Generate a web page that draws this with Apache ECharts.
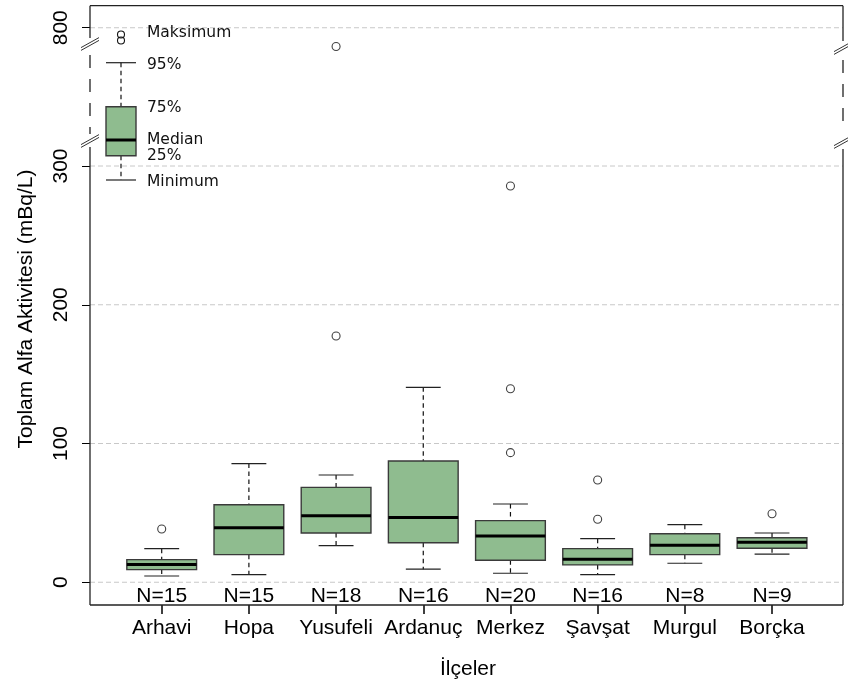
<!DOCTYPE html>
<html>
<head>
<meta charset="utf-8">
<script src="https://cdn.jsdelivr.net/npm/echarts@6/dist/echarts.min.js"></script>
<style>
  html, body { margin: 0; padding: 0; background: #ffffff; }
  #chart { width: 848px; height: 685px; }
</style>
</head>
<body>
<div id="chart"></div>
<script>
// Total alpha activity per district (mBq/L): five-number summaries + outliers
const categories  = ['Arhavi', 'Hopa', 'Yusufeli', 'Ardanuç', 'Merkez', 'Şavşat', 'Murgul', 'Borçka'];
const counts      = [15, 15, 18, 16, 20, 16, 8, 9];
const whiskerLow  = [4.5, 5.5, 26.4, 9.4, 6.5, 5.5, 13.7, 20.2];
const quartile1   = [9.1, 19.9, 35.5, 28.5, 15.9, 12.5, 19.9, 24.5];
const medians     = [12.7, 39.3, 48.0, 46.6, 33.4, 16.6, 26.7, 28.8];
const quartile3   = [16.3, 55.9, 68.4, 87.4, 44.4, 24.2, 35.0, 32.1];
const whiskerHigh = [24.2, 85.5, 77.3, 140.5, 56.4, 31.4, 41.5, 35.5];
const outliers    = [[38.4], [], [177.5, 786.5], [], [93.4, 139.5, 285.6], [45.4, 73.7], [], [49.4]];
const lowerTicks  = [0, 100, 200, 300];
const upperTicks  = [800];

// Broken y axis: lower panel and upper panel
const LOWER_MIN = -16.4, LOWER_MAX = 317.3;
const UPPER_MIN = 786.1, UPPER_MAX = 815.9;
const X_MIN = 0.1776, X_MAX = 8.814;

const FILL = '#8fbc8f';
const EDGE = '#3a3a3a';
const LABEL_FONT = 'Liberation Sans, Arial, sans-serif';
const KEY_FONT = 'DejaVu Sans, sans-serif';

const positions = categories.map((_, i) => i + 1);

const boxData = categories.map((_, i) => [positions[i], whiskerLow[i], quartile1[i], medians[i], quartile3[i], whiskerHigh[i]]);
const lowerOutliers = [];
const upperOutliers = [];
outliers.forEach((list, i) => list.forEach(v => {
  (v > LOWER_MAX ? upperOutliers : lowerOutliers).push([positions[i], v]);
}));

function renderBox(params, api) {
  const x = api.value(0);
  const pLo = api.coord([x, api.value(1)]);
  const pQ1 = api.coord([x, api.value(2)]);
  const pMd = api.coord([x, api.value(3)]);
  const pQ3 = api.coord([x, api.value(4)]);
  const pHi = api.coord([x, api.value(5)]);
  const halfBox = api.size([0.8, 0])[0] / 2;
  const halfCap = api.size([0.4, 0])[0] / 2;
  const cx = pMd[0];
  const dash = { stroke: '#111', lineWidth: 1.2, lineDash: [4.5, 3.5] };
  const solid = { stroke: '#222', lineWidth: 1.2 };
  return {
    type: 'group',
    children: [
      { type: 'line', shape: { x1: cx, y1: pHi[1], x2: cx, y2: pQ3[1] }, style: dash },
      { type: 'line', shape: { x1: cx, y1: pQ1[1], x2: cx, y2: pLo[1] }, style: dash },
      { type: 'line', shape: { x1: cx - halfCap, y1: pHi[1], x2: cx + halfCap, y2: pHi[1] }, style: solid },
      { type: 'line', shape: { x1: cx - halfCap, y1: pLo[1], x2: cx + halfCap, y2: pLo[1] }, style: solid },
      { type: 'rect', shape: { x: cx - halfBox, y: pQ3[1], width: 2 * halfBox, height: pQ1[1] - pQ3[1] },
        style: { fill: FILL, stroke: EDGE, lineWidth: 1.4 } },
      { type: 'line', shape: { x1: cx - halfBox, y1: pMd[1], x2: cx + halfBox, y2: pMd[1] },
        style: { stroke: '#000', lineWidth: 3 } }
    ]
  };
}

function renderGridLine(params, api) {
  const cs = params.coordSys;
  const y = api.coord([X_MIN, api.value(1)])[1];
  return {
    type: 'line',
    shape: { x1: cs.x, y1: y, x2: cs.x + cs.width, y2: y },
    style: { stroke: '#c8c8c8', lineWidth: 1, lineDash: [5, 3] }
  };
}

function renderCount(params, api) {
  const cs = params.coordSys;
  const x = api.coord([api.value(0), LOWER_MIN])[0];
  return {
    type: 'text',
    x: x,
    y: cs.y + cs.height - 9,
    style: { text: 'N=' + api.value(1), font: '21px ' + LABEL_FONT, fill: '#000', align: 'center', verticalAlign: 'middle' }
  };
}

function yAxisFor(gridIndex, min, max, ticks) {
  return {
    type: 'value', gridIndex, min, max,
    axisLine: { show: false, onZero: false },
    splitLine: { show: false },
    axisTick: { show: true, length: 8, customValues: ticks, lineStyle: { color: '#000', width: 1 } },
    axisLabel: {
      customValues: ticks, rotate: 90, margin: 18,
      fontSize: 21, fontFamily: LABEL_FONT, color: '#000'
    }
  };
}

// Frame, axis breaks, explanatory key and titles
const frameStyle = { stroke: '#222', lineWidth: 1.3 };
const dashedFrame = { stroke: '#222', lineWidth: 1.3, lineDash: [13, 11] };
function slash(cx, cy) {
  return [-1.4, 1.4].map(d => ({
    type: 'line',
    shape: { x1: cx - 9, y1: cy + 5 + d, x2: cx + 9, y2: cy - 5 + d },
    style: { stroke: '#333', lineWidth: 1 }, z: 100
  }));
}
function line(x1, y1, x2, y2, style) {
  return { type: 'line', shape: { x1, y1, x2, y2 }, style, z: 90 };
}
function keyText(text, y) {
  return { type: 'text', x: 147, y, z: 100,
    style: { text, font: '15.5px ' + KEY_FONT, fill: '#111', align: 'left', verticalAlign: 'middle' } };
}
const keyDash = { stroke: '#111', lineWidth: 1.2, lineDash: [4.5, 3.5] };
const keySolid = { stroke: '#222', lineWidth: 1.2 };

const graphics = [
  line(90, 5.7, 843, 5.7, frameStyle),
  line(90, 605, 843, 605, frameStyle),
  line(90, 5.7, 90, 38, frameStyle),
  line(90, 55, 90, 134, dashedFrame),
  line(90, 147, 90, 605, frameStyle),
  line(843, 5.7, 843, 41, frameStyle),
  line(843, 60, 843, 130, dashedFrame),
  line(843, 149, 843, 605, frameStyle),
  ...slash(90, 44), ...slash(90, 141),
  ...slash(843, 48), ...slash(843, 142),
  // key
  { type: 'circle', shape: { cx: 121, cy: 34.5, r: 3.5 }, style: { fill: 'none', stroke: '#111', lineWidth: 1.1 }, z: 100 },
  { type: 'circle', shape: { cx: 121, cy: 40.5, r: 3.5 }, style: { fill: 'none', stroke: '#111', lineWidth: 1.1 }, z: 100 },
  line(106, 62.7, 136, 62.7, keySolid),
  line(121, 62.7, 121, 106.7, keyDash),
  line(121, 155.7, 121, 180, keyDash),
  line(106, 180, 136, 180, keySolid),
  { type: 'rect', shape: { x: 106, y: 106.7, width: 30, height: 49 }, style: { fill: FILL, stroke: EDGE, lineWidth: 1.4 }, z: 95 },
  { type: 'line', shape: { x1: 106, y1: 140, x2: 136, y2: 140 }, style: { stroke: '#000', lineWidth: 3 }, z: 96 },
  keyText('Maksimum', 33),
  keyText('95%', 64.5),
  keyText('75%', 107.5),
  keyText('Median', 140),
  keyText('25%', 156),
  keyText('Minimum', 181.5),
  // titles
  { type: 'text', x: 26, y: 309, rotation: Math.PI / 2,
    style: { text: 'Toplam Alfa Aktivitesi (mBq/L)', font: '21px ' + LABEL_FONT, fill: '#000', align: 'center', verticalAlign: 'middle' } },
  { type: 'text', x: 468, y: 669,
    style: { text: 'İlçeler', font: '21px ' + LABEL_FONT, fill: '#000', align: 'center', verticalAlign: 'middle' } }
];

const chart = echarts.init(document.getElementById('chart'), null, { renderer: 'canvas' });
chart.setOption({
  animation: false,
  backgroundColor: '#ffffff',
  grid: [
    { left: 90, right: 5, top: 5.7, height: 41.3 },
    { left: 90, right: 5, top: 142, bottom: 80 }
  ],
  xAxis: [
    { type: 'value', gridIndex: 0, min: X_MIN, max: X_MAX, show: false },
    {
      type: 'value', gridIndex: 1, min: X_MIN, max: X_MAX, position: 'bottom',
      axisLine: { show: false, onZero: false },
      splitLine: { show: false },
      axisTick: { show: true, inside: false, length: 9, customValues: positions, lineStyle: { color: '#000', width: 1.5 } },
      axisLabel: {
        customValues: positions, margin: 13,
        formatter: v => categories[Math.round(v) - 1] || '',
        fontSize: 21, fontFamily: LABEL_FONT, color: '#000'
      }
    }
  ],
  yAxis: [
    yAxisFor(0, UPPER_MIN, UPPER_MAX, upperTicks),
    yAxisFor(1, LOWER_MIN, LOWER_MAX, lowerTicks)
  ],
  graphic: graphics,
  series: [
    { type: 'custom', xAxisIndex: 1, yAxisIndex: 1, z: 1, silent: true,
      renderItem: renderGridLine, data: lowerTicks.map(v => [X_MIN, v]) },
    { type: 'custom', xAxisIndex: 0, yAxisIndex: 0, z: 1, silent: true,
      renderItem: renderGridLine, data: upperTicks.map(v => [X_MIN, v]) },
    { type: 'custom', xAxisIndex: 1, yAxisIndex: 1, z: 5,
      renderItem: renderBox, data: boxData, clip: false },
    { type: 'custom', xAxisIndex: 1, yAxisIndex: 1, z: 6,
      renderItem: renderCount, data: counts.map((n, i) => [positions[i], n]), clip: false },
    { type: 'scatter', xAxisIndex: 1, yAxisIndex: 1, z: 7, clip: false,
      symbol: 'circle', symbolSize: 8,
      itemStyle: { color: 'rgba(0,0,0,0)', borderColor: '#111', borderWidth: 1.1 },
      data: lowerOutliers },
    { type: 'scatter', xAxisIndex: 0, yAxisIndex: 0, z: 7, clip: false,
      symbol: 'circle', symbolSize: 8,
      itemStyle: { color: 'rgba(0,0,0,0)', borderColor: '#111', borderWidth: 1.1 },
      data: upperOutliers }
  ]
});
</script>
</body>
</html>
